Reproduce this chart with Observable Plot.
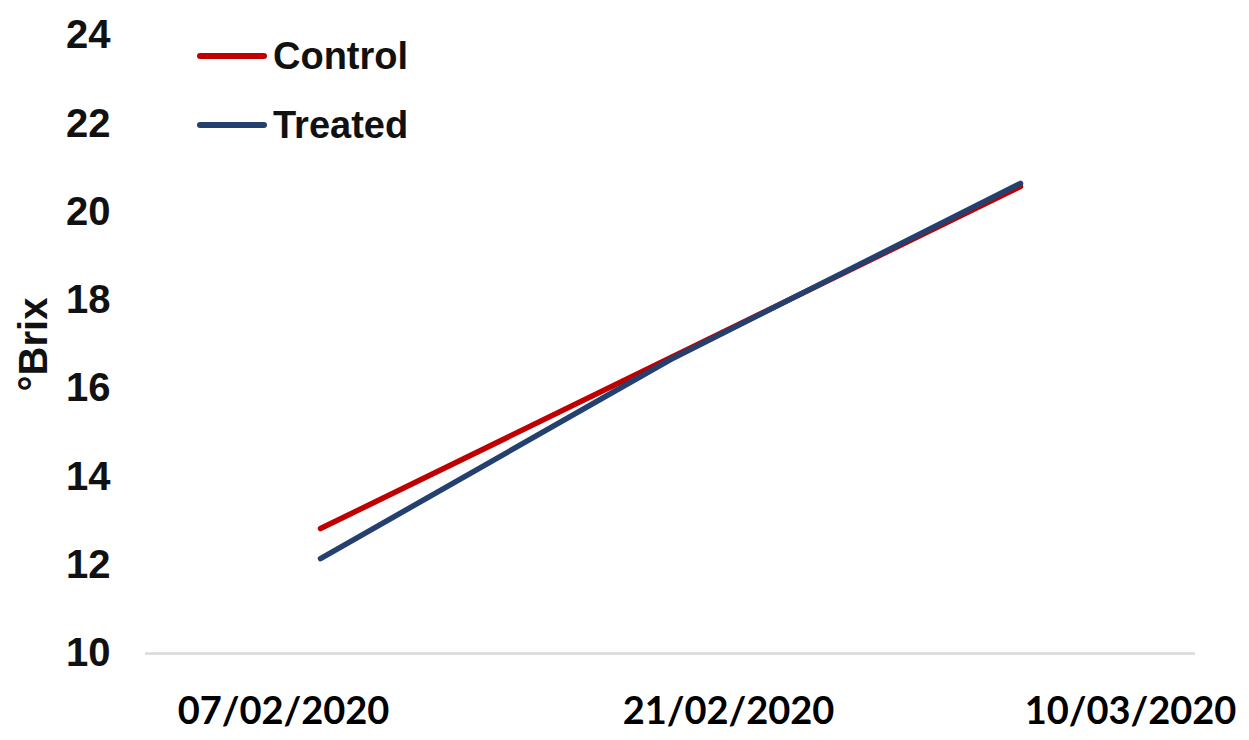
<!DOCTYPE html>
<html>
<head>
<meta charset="utf-8">
<script src="https://cdn.jsdelivr.net/npm/d3@7"></script>
<script src="https://cdn.jsdelivr.net/npm/@observablehq/plot@0.6"></script>
<style>
  html, body { margin: 0; padding: 0; background: #fff; }
  #wrap { position: relative; width: 1249px; height: 740px; }
  #legend { position: absolute; left: 197px; top: 33px; font-family: "Liberation Sans", Arial, sans-serif; font-weight: bold; font-size: 38px; color: #111; }
  .item { display: flex; align-items: center; height: 46px; margin-bottom: 23px; }
  .sw { width: 70px; height: 6px; border-radius: 3px; margin-right: 6px; }
</style>
</head>
<body>
<div id="wrap"><div id="legend"></div></div>
<script>
const dates = ["07/02/2020", "21/02/2020", "10/03/2020"];
const series = ["Control", "Treated"];
const control = [12.83, 16.70, 20.58];
const treated = [12.15, 16.66, 20.65];
const yTicks = [10, 12, 14, 16, 18, 20, 22, 24];
const colors = ["#c00000", "#24406f"];
const labelShift = [-37, 58, 110];

const rows = [
  ...dates.map((d, i) => ({date: d, value: control[i], series: "Control"})),
  ...dates.map((d, i) => ({date: d, value: treated[i], series: "Treated"}))
];

const xAxes = dates.map((d, i) => Plot.axisX([d], {
  anchor: "bottom", tickSize: 0, tickPadding: 44, label: null,
  dx: labelShift[i], fontSize: 38, fontWeight: "bold",
  fontFamily: "Lato, 'Open Sans', sans-serif", fill: "#000"
}));

const chart = Plot.plot({
  width: 1249,
  height: 740,
  marginLeft: 145,
  marginRight: 54,
  marginTop: 35,
  marginBottom: 87,
  x: {type: "point", domain: dates, padding: 0.5},
  y: {domain: [10, 24], ticks: yTicks},
  color: {domain: series, range: colors},
  style: {fontFamily: "'Liberation Sans', Arial, sans-serif", color: "#111", background: "#fff"},
  marks: [
    Plot.ruleY([10], {stroke: "#d9d9d9", strokeWidth: 2.5}),
    Plot.axisY({ticks: yTicks, tickSize: 0, tickPadding: 35, fontSize: 40, fontWeight: "bold",
      label: "°Brix", labelAnchor: "center", labelOffset: 127, labelArrow: "none"}),
    ...xAxes,
    Plot.line(rows, {x: "date", y: "value", z: "series", stroke: "series", strokeWidth: 5.5, strokeLinecap: "round"})
  ]
});
chart.style.fontWeight = "bold";
document.getElementById("wrap").prepend(chart);

const legend = document.getElementById("legend");
series.forEach((s, i) => {
  const item = document.createElement("div");
  item.className = "item";
  const sw = document.createElement("div");
  sw.className = "sw";
  sw.style.background = colors[i];
  const t = document.createElement("span");
  t.textContent = s;
  item.append(sw, t);
  legend.append(item);
});
</script>
</body>
</html>
